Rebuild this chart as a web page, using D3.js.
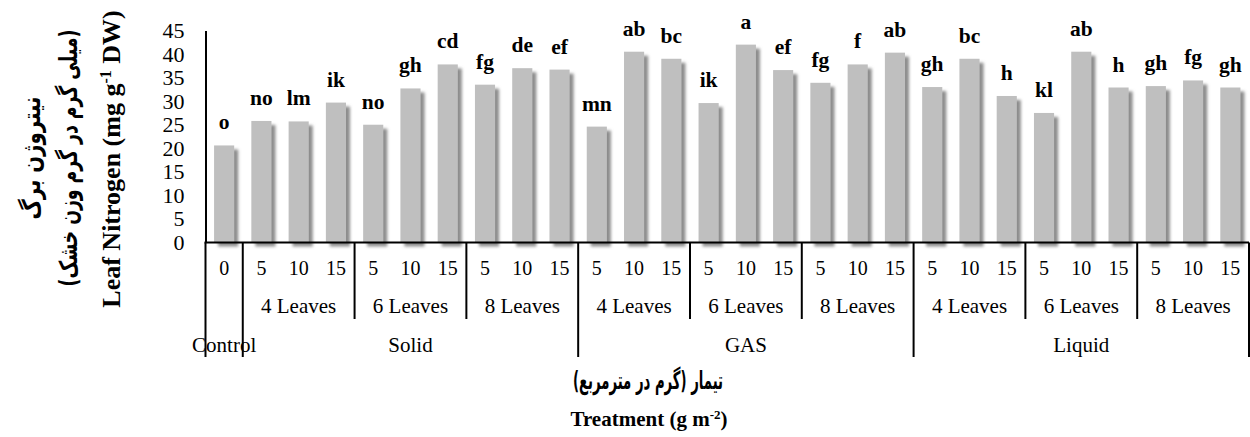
<!DOCTYPE html>
<html>
<head>
<meta charset="utf-8">
<script src="https://cdn.jsdelivr.net/npm/d3@7"></script>
<style>
  html, body { margin: 0; padding: 0; background: #fff; }
  svg { display: block; }
</style>
</head>
<body>
<svg id="chart" width="1250" height="437"></svg>
<script>
// ---- Data ----
const methods = ["Control", "Solid", "GAS", "Liquid"];
const leafStages = ["4 Leaves", "6 Leaves", "8 Leaves"];
const doseLevels = ["5", "10", "15"];
const controlDose = "0";
const values = [20.6,
  25.8, 25.7, 29.7, 25.0, 32.7, 37.8, 33.5, 37.0, 36.7,
  24.6, 40.5, 39.0, 29.6, 42.0, 36.6, 33.9, 37.8, 40.3,
  33.0, 39.0, 31.1, 27.5, 40.5, 32.9, 33.2, 34.4, 32.9];
const letters = ["o",
  "no", "lm", "ik", "no", "gh", "cd", "fg", "de", "ef",
  "mn", "ab", "bc", "ik", "a", "ef", "fg", "f", "ab",
  "gh", "bc", "h", "kl", "ab", "h", "gh", "fg", "gh"];
const yTicks = [0, 5, 10, 15, 20, 25, 30, 35, 40, 45];
const yTitleFa1 = "نیتروژن برگ";
const yTitleFa2 = "(میلی گرم در گرم وزن خشک)";
const xTitleFa = "تیمار (گرم در مترمربع)";

// build categories
const cats = [{method: "Control", leaf: null, dose: controlDose}];
methods.slice(1).forEach(m => leafStages.forEach(l => doseLevels.forEach(d => cats.push({method: m, leaf: l, dose: d}))));
cats.forEach((c, i) => { c.i = i; c.v = values[i]; c.letter = letters[i]; });

// ---- Layout ----
const svg = d3.select("#chart");
svg.append("rect").attr("width", 1250).attr("height", 437).attr("fill", "#fff");
const plotL = 205.5, plotR = 1249, y0 = 242.5, yTop = 30.5;
const serif = "Liberation Serif, Tinos, DejaVu Serif, Liberation Sans, serif";
const fa = "DejaVu Sans, sans-serif";

const x = d3.scaleBand().domain(cats.map(c => c.i)).range([plotL, plotR]).paddingInner(0.46).paddingOuter(0.23);
const y = d3.scaleLinear().domain([0, 45]).range([y0, yTop]);
const step = x.step();
const gap = (step - x.bandwidth()) / 2;
const left = i => x(i) - gap;
const right = i => x(i) + x.bandwidth() + gap;
const mid = i => x(i) + x.bandwidth() / 2;

// shadow filter
const defs = svg.append("defs");
const f = defs.append("filter").attr("id", "sh").attr("x", "-30%").attr("y", "-10%").attr("width", "180%").attr("height", "130%");
f.append("feGaussianBlur").attr("in", "SourceAlpha").attr("stdDeviation", 1.8).attr("result", "bl");
f.append("feOffset").attr("in", "bl").attr("dx", 3.5).attr("dy", 3.5).attr("result", "off");
f.append("feFlood").attr("flood-color", "#808080").attr("flood-opacity", 0.9);
f.append("feComposite").attr("in2", "off").attr("operator", "in");
const mg = f.append("feMerge");
mg.append("feMergeNode");
mg.append("feMergeNode").attr("in", "SourceGraphic");

// bars
svg.append("g").selectAll("rect").data(cats).join("rect")
  .attr("x", d => x(d.i)).attr("width", x.bandwidth())
  .attr("y", d => y(d.v)).attr("height", d => y(0) - y(d.v))
  .attr("fill", "#bfbfbf").attr("filter", "url(#sh)");

// letters
svg.append("g").selectAll("text").data(cats).join("text")
  .attr("x", d => mid(d.i)).attr("y", d => y(d.v) - 16)
  .attr("text-anchor", "middle")
  .attr("font-family", serif).attr("font-weight", "bold").attr("font-size", 21.5)
  .text(d => d.letter);

// y axis
const ya = svg.append("g").attr("transform", `translate(${plotL},0)`)
  .call(d3.axisLeft(y).tickValues(yTicks).tickSize(0).tickSizeOuter(0).tickPadding(21));
ya.attr("font-family", serif).attr("font-size", 22);
ya.select(".domain").attr("stroke", "#000").attr("stroke-width", 2);
ya.selectAll("text").attr("fill", "#000");

// x axis line
svg.append("line").attr("x1", plotL - 1).attr("x2", plotR).attr("y1", y0).attr("y2", y0)
  .attr("stroke", "#000").attr("stroke-width", 2);

// dose labels
svg.append("g").selectAll("text").data(cats).join("text")
  .attr("x", d => mid(d.i)).attr("y", 275).attr("text-anchor", "middle")
  .attr("font-family", serif).attr("font-size", 20).text(d => d.dose);

// leaf groups
const leafGroups = d3.groups(cats.filter(c => c.leaf), c => c.method + "|" + c.leaf).map(([k, arr]) => ({label: arr[0].leaf, a: arr[0].i, b: arr[arr.length - 1].i}));
svg.append("g").selectAll("text").data(leafGroups).join("text")
  .attr("x", d => (left(d.a) + right(d.b)) / 2).attr("y", 313).attr("text-anchor", "middle")
  .attr("font-family", serif).attr("font-size", 21).text(d => d.label);

// method groups
const methodGroups = d3.groups(cats, c => c.method).map(([k, arr]) => ({label: k, a: arr[0].i, b: arr[arr.length - 1].i}));
svg.append("g").selectAll("text").data(methodGroups).join("text")
  .attr("x", d => (left(d.a) + right(d.b)) / 2).attr("y", 352).attr("text-anchor", "middle")
  .attr("font-family", serif).attr("font-size", 21).text(d => d.label);

// separators
const seps = [];
cats.forEach((c, i) => {
  if (i === 0) { seps.push({x: left(i), long: true}); return; }
  const p = cats[i - 1];
  if (p.method !== c.method) seps.push({x: left(i), long: true});
  else if (p.leaf !== c.leaf) seps.push({x: left(i), long: false});
});
seps.push({x: right(cats.length - 1), long: true});
svg.append("g").selectAll("line").data(seps).join("line")
  .attr("x1", d => d.x).attr("x2", d => d.x).attr("y1", y0).attr("y2", d => d.long ? 357 : 319)
  .attr("stroke", "#000").attr("stroke-width", 2);

// Persian text fitted to a target length via a horizontal scale on the text's own axis
function fitText(base, target, txt, size) {
  const t = svg.append("text").attr("text-anchor", "middle").style("direction", "rtl")
    .attr("font-family", fa).attr("font-weight", "bold").attr("font-size", size).text(txt);
  const w = t.node().getComputedTextLength();
  t.attr("transform", `${base} scale(${target / w},1)`);
  return t;
}

// x titles
fitText("translate(648,389)", 150, xTitleFa, 25);
const tx = svg.append("text").attr("x", 649).attr("y", 426).attr("text-anchor", "middle")
  .attr("font-family", serif).attr("font-weight", "bold").attr("font-size", 21);
tx.append("tspan").text("Treatment (g m");
tx.append("tspan").attr("dy", -7).attr("font-size", 13).text("-2");
tx.append("tspan").attr("dy", 7).text(")");

// y titles
fitText("translate(40,158) rotate(-90)", 123, yTitleFa1, 25);
fitText("translate(77,158) rotate(-90)", 257, yTitleFa2, 25);
const ty = svg.append("text").attr("transform", "translate(120,159) rotate(-90)").attr("text-anchor", "middle")
  .attr("font-family", serif).attr("font-weight", "bold").attr("font-size", 26);
ty.append("tspan").text("Leaf Nitrogen (mg g");
ty.append("tspan").attr("dy", -9).attr("font-size", 16).text("-1");
ty.append("tspan").attr("dy", 9).text(" DW)");
</script>
</body>
</html>
